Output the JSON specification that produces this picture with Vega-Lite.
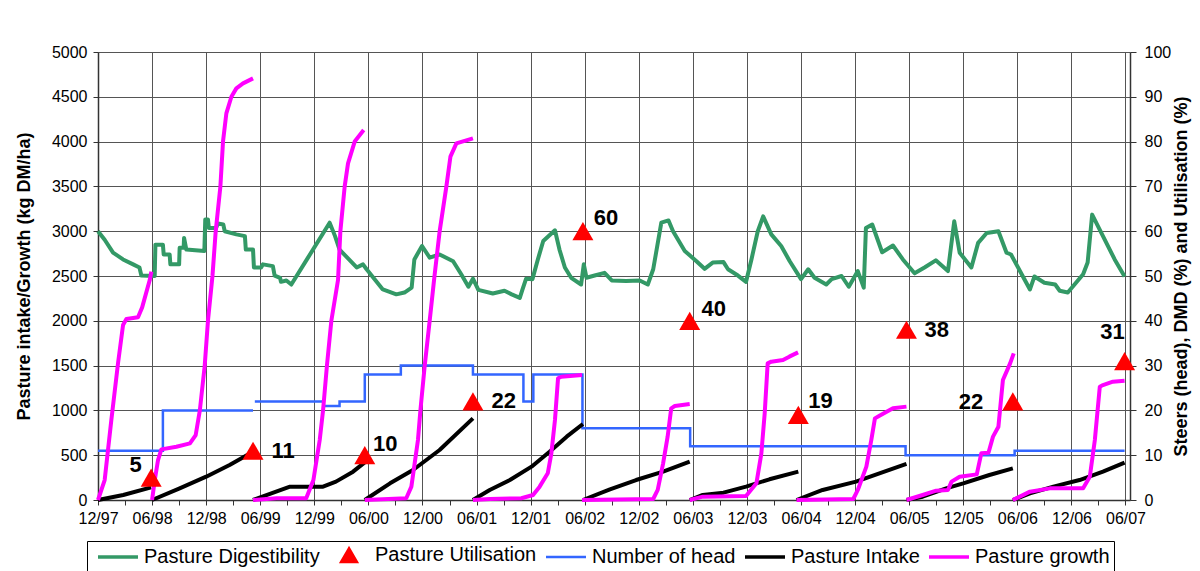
{
  "$schema": "https://vega.github.io/schema/vega-lite/v6.json",
  "width": 1032,
  "height": 448,
  "autosize": {"type": "none"},
  "padding": {"left": 98, "top": 52, "right": 70, "bottom": 71},
  "background": "white",
  "config": {
    "view": {"stroke": null},
    "font": "Liberation Sans",
    "axis": {
      "labelFont": "Liberation Sans", "labelFontSize": 16, "labelColor": "#000",
      "titleFont": "Liberation Sans", "titleFontSize": 18, "titleFontWeight": "bold", "titleColor": "#000",
      "domainColor": "#333", "tickColor": "#333", "gridColor": "#555", "gridOpacity": 1, "gridWidth": 1,
      "domainWidth": 1.5, "tickWidth": 1, "labelFlush": false
    },
    "legend": {
      "orient": "none", "legendX": -11, "legendY": 489, "direction": "horizontal",
      "labelFont": "Liberation Sans", "labelFontSize": 20, "labelColor": "#000", "labelLimit": 0,
      "strokeColor": "#000", "fillColor": "white", "padding": 4, "columnPadding": 2, "labelOffset": 16, "symbolOffset": 17,
      "symbolType": "stroke", "symbolStrokeWidth": 4, "symbolOpacity": 1
    }
  },
  "datasets": {
    "growth": [
      {"s":1,"m":0,"v":0},{"s":1,"m":0.74,"v":223},{"s":1,"m":1.48,"v":893},{"s":1,"m":2.22,"v":1525},{"s":1,"m":2.78,"v":1953},{"s":1,"m":3.15,"v":2020},{"s":1,"m":4.44,"v":2040},{"s":1,"m":4.9,"v":2150},{"s":1,"m":5.74,"v":2455},{"s":1,"m":5.92,"v":2548},
      {"s":2,"m":6.0,"v":0},{"s":2,"m":6.3,"v":223},{"s":2,"m":6.66,"v":446},{"s":2,"m":7.03,"v":565},{"s":2,"m":8.7,"v":595},{"s":2,"m":10.2,"v":632},{"s":2,"m":10.84,"v":725},{"s":2,"m":11.3,"v":1000},{"s":2,"m":11.84,"v":1500},{"s":2,"m":12.2,"v":2000},{"s":2,"m":12.7,"v":2500},{"s":2,"m":13.06,"v":3000},{"s":2,"m":13.58,"v":3500},{"s":2,"m":13.87,"v":4000},{"s":2,"m":14.24,"v":4315},{"s":2,"m":14.8,"v":4501},{"s":2,"m":15.35,"v":4594},{"s":2,"m":16.09,"v":4650},{"s":2,"m":17.2,"v":4706},
      {"s":3,"m":17.2,"v":0},{"s":3,"m":19.8,"v":19},{"s":3,"m":23.1,"v":19},{"s":3,"m":23.9,"v":223},{"s":3,"m":24.6,"v":670},{"s":3,"m":24.97,"v":1000},{"s":3,"m":25.4,"v":1500},{"s":3,"m":25.89,"v":2000},{"s":3,"m":26.63,"v":2455},{"s":3,"m":26.89,"v":3000},{"s":3,"m":27.37,"v":3500},{"s":3,"m":27.74,"v":3757},{"s":3,"m":28.48,"v":4000},{"s":3,"m":29.48,"v":4129},
      {"s":4,"m":29.6,"v":0},{"s":4,"m":34.2,"v":19},{"s":4,"m":34.77,"v":149},{"s":4,"m":35.5,"v":670},{"s":4,"m":35.77,"v":1000},{"s":4,"m":36.25,"v":1500},{"s":4,"m":36.8,"v":2000},{"s":4,"m":37.3,"v":2470},{"s":4,"m":37.9,"v":2995},{"s":4,"m":38.65,"v":3497},{"s":4,"m":39.1,"v":3832},{"s":4,"m":39.76,"v":3980},{"s":4,"m":41.6,"v":4036},
      {"s":5,"m":41.6,"v":0},{"s":5,"m":43.46,"v":11},{"s":5,"m":46.97,"v":19},{"s":5,"m":48.27,"v":56},{"s":5,"m":49.0,"v":149},{"s":5,"m":49.9,"v":298},{"s":5,"m":50.3,"v":521},{"s":5,"m":50.7,"v":893},{"s":5,"m":51.04,"v":1358},{"s":5,"m":51.4,"v":1376},{"s":5,"m":53.7,"v":1395},
      {"s":6,"m":53.7,"v":0},{"s":6,"m":61.6,"v":11},{"s":6,"m":62.1,"v":112},{"s":6,"m":62.7,"v":409},{"s":6,"m":63.2,"v":707},{"s":6,"m":63.6,"v":1023},{"s":6,"m":64.0,"v":1049},{"s":6,"m":65.65,"v":1071},
      {"s":7,"m":65.65,"v":0},{"s":7,"m":67.1,"v":37},{"s":7,"m":71.9,"v":45},{"s":7,"m":73.05,"v":186},{"s":7,"m":73.6,"v":521},{"s":7,"m":73.97,"v":967},{"s":7,"m":74.3,"v":1525},{"s":7,"m":74.7,"v":1544},{"s":7,"m":76.0,"v":1562},{"s":7,"m":76.7,"v":1600},{"s":7,"m":77.67,"v":1648},
      {"s":8,"m":77.5,"v":0},{"s":8,"m":83.8,"v":11},{"s":8,"m":84.3,"v":112},{"s":8,"m":85.25,"v":372},{"s":8,"m":85.8,"v":670},{"s":8,"m":86.2,"v":911},{"s":8,"m":86.7,"v":940},{"s":8,"m":88.2,"v":1023},{"s":8,"m":89.7,"v":1042},
      {"s":9,"m":89.7,"v":0},{"s":9,"m":91.5,"v":56},{"s":9,"m":93.0,"v":104},{"s":9,"m":94.3,"v":112},{"s":9,"m":94.7,"v":205},{"s":9,"m":95.6,"v":260},{"s":9,"m":97.5,"v":286},{"s":9,"m":98.0,"v":521},{"s":9,"m":98.8,"v":528},{"s":9,"m":99.3,"v":707},{"s":9,"m":99.9,"v":818},{"s":9,"m":100.4,"v":1339},{"s":9,"m":101.2,"v":1525},{"s":9,"m":101.6,"v":1637},
      {"s":10,"m":101.5,"v":0},{"s":10,"m":103.4,"v":93},{"s":10,"m":105.6,"v":130},{"s":10,"m":109.3,"v":130},{"s":10,"m":110.04,"v":260},{"s":10,"m":110.6,"v":670},{"s":10,"m":111.15,"v":1265},{"s":10,"m":111.5,"v":1283},{"s":10,"m":112.6,"v":1321},{"s":10,"m":113.9,"v":1332}
    ],
    "intake": [
      {"s":1,"m":0,"v":0},{"s":1,"m":2.8,"v":56},{"s":1,"m":5.9,"v":141},
      {"s":2,"m":6.0,"v":0},{"s":2,"m":9.06,"v":130},{"s":2,"m":12.0,"v":260},{"s":2,"m":14.6,"v":391},{"s":2,"m":17.2,"v":539},
      {"s":3,"m":17.2,"v":0},{"s":3,"m":21.3,"v":149},{"s":3,"m":24.97,"v":149},{"s":3,"m":26.4,"v":205},{"s":3,"m":28.3,"v":316},{"s":3,"m":29.7,"v":428},
      {"s":4,"m":29.6,"v":0},{"s":4,"m":32.4,"v":186},{"s":4,"m":34.95,"v":335},{"s":4,"m":37.9,"v":558},{"s":4,"m":41.6,"v":911},
      {"s":5,"m":41.6,"v":0},{"s":5,"m":43.46,"v":112},{"s":5,"m":45.7,"v":223},{"s":5,"m":48.1,"v":372},{"s":5,"m":50.1,"v":539},{"s":5,"m":52.0,"v":707},{"s":5,"m":53.8,"v":848},
      {"s":6,"m":53.8,"v":0},{"s":6,"m":56.8,"v":119},{"s":6,"m":59.7,"v":223},{"s":6,"m":62.7,"v":316},{"s":6,"m":65.65,"v":428},
      {"s":7,"m":65.65,"v":0},{"s":7,"m":67.1,"v":56},{"s":7,"m":69.4,"v":82},{"s":7,"m":71.9,"v":149},{"s":7,"m":74.5,"v":231},{"s":7,"m":77.7,"v":316},
      {"s":8,"m":77.5,"v":0},{"s":8,"m":80.4,"v":112},{"s":8,"m":84.1,"v":205},{"s":8,"m":87.8,"v":335},{"s":8,"m":89.7,"v":402},
      {"s":9,"m":89.7,"v":0},{"s":9,"m":91.5,"v":37},{"s":9,"m":94.1,"v":130},{"s":9,"m":96.0,"v":186},{"s":9,"m":98.9,"v":279},{"s":9,"m":101.5,"v":353},
      {"s":10,"m":101.5,"v":0},{"s":10,"m":103.4,"v":74},{"s":10,"m":106.0,"v":149},{"s":10,"m":108.9,"v":223},{"s":10,"m":111.5,"v":316},{"s":10,"m":113.9,"v":417}
    ],
    "head": [
      {"s":1,"m":0,"v":11},{"s":1,"m":7.2,"v":20},{"s":1,"m":17.2,"v":20},
      {"s":2,"m":17.4,"v":22},{"s":2,"m":25.0,"v":21},{"s":2,"m":26.8,"v":22},{"s":2,"m":29.6,"v":28},{"s":2,"m":33.6,"v":30},{"s":2,"m":41.6,"v":28},{"s":2,"m":47.2,"v":22},{"s":2,"m":48.3,"v":28},{"s":2,"m":53.75,"v":16},{"s":2,"m":65.7,"v":12},{"s":2,"m":89.6,"v":10},{"s":2,"m":101.7,"v":11},{"s":2,"m":113.9,"v":11}
    ],
    "dmd": [
      {"m":0,"v":60},{"m":0.74,"v":58.1},{"m":1.67,"v":55.2},{"m":2.78,"v":53.7},{"m":3.9,"v":52.6},{"m":4.6,"v":51.9},{"m":4.81,"v":50.1},{"m":6.29,"v":50},{"m":6.37,"v":57.0},{"m":7.2,"v":57.0},{"m":7.29,"v":54.8},{"m":7.95,"v":54.8},{"m":8.03,"v":52.6},{"m":9.0,"v":52.6},{"m":9.06,"v":56.3},{"m":9.5,"v":56.3},{"m":9.55,"v":58.5},{"m":9.8,"v":55.9},{"m":11.8,"v":55.6},{"m":11.9,"v":62.6},{"m":12.2,"v":62.6},{"m":12.3,"v":60.7},{"m":13.1,"v":60.7},{"m":13.3,"v":61.7},{"m":13.9,"v":61.5},{"m":14.06,"v":60},{"m":15.35,"v":59.3},{"m":16.3,"v":58.9},{"m":16.4,"v":55.9},{"m":17.2,"v":55.9},{"m":17.3,"v":51.9},{"m":18.1,"v":51.9},{"m":18.3,"v":52.6},{"m":19.4,"v":52.2},{"m":19.6,"v":50.1},{"m":20.2,"v":49.6},{"m":20.3,"v":48.7},{"m":20.9,"v":49.0},{"m":21.45,"v":48.1},{"m":23.3,"v":54.1},{"m":25.7,"v":61.9},{"m":26.3,"v":58.9},{"m":26.8,"v":55.9},{"m":28.7,"v":51.9},{"m":29.4,"v":52.6},{"m":29.8,"v":51.5},{"m":31.6,"v":47.0},{"m":33.1,"v":45.9},{"m":34.0,"v":46.3},{"m":34.8,"v":47.4},{"m":35.1,"v":53.7},{"m":35.95,"v":56.7},{"m":36.8,"v":54.1},{"m":37.9,"v":54.8},
      {"m":39.4,"v":53.3},{"m":40.3,"v":50.4},{"m":41.1,"v":47.6},{"m":41.6,"v":49.4},{"m":42.2,"v":46.9},{"m":43.8,"v":46.1},{"m":45.1,"v":46.7},{"m":45.9,"v":45.9},{"m":46.8,"v":45.1},{"m":47.1,"v":47.0},{"m":47.5,"v":49.4},{"m":48.2,"v":49.3},{"m":48.8,"v":53.7},{"m":49.4,"v":57.8},{"m":50.7,"v":60.2},{"m":51.2,"v":55.9},{"m":51.8,"v":51.9},{"m":52.5,"v":49.6},{"m":53.6,"v":48.1},{"m":53.9,"v":52.6},{"m":54.2,"v":49.6},{"m":55.1,"v":50.1},{"m":56.2,"v":50.7},{"m":57.0,"v":49.0},{"m":58.6,"v":48.9},{"m":60.1,"v":49.0},{"m":61.0,"v":48.1},{"m":61.6,"v":51.5},{"m":62.5,"v":61.9},{"m":63.3,"v":62.4},{"m":63.8,"v":60},{"m":65.1,"v":55.6},{"m":66.4,"v":53.3},{"m":67.3,"v":51.6},{"m":68.2,"v":53.0},{"m":69.4,"v":53.1},{"m":69.9,"v":51.5},{"m":71.0,"v":50.1},{"m":71.9,"v":48.7},{"m":72.5,"v":53.7},{"m":73.2,"v":60},{"m":73.8,"v":63.3},{"m":74.7,"v":59.3},{"m":75.8,"v":56.7},
      {"m":76.75,"v":53.3},{"m":78.0,"v":49.3},{"m":78.8,"v":51.5},{"m":79.5,"v":49.6},{"m":80.8,"v":48.1},{"m":81.4,"v":49.3},{"m":82.5,"v":50},{"m":83.3,"v":47.6},{"m":84.3,"v":51.1},{"m":84.96,"v":47.4},{"m":85.2,"v":60.7},{"m":85.9,"v":61.5},{"m":87.0,"v":55.3},{"m":88.2,"v":56.8},{"m":89.3,"v":53.7},{"m":90.6,"v":50.6},{"m":91.7,"v":51.9},{"m":92.95,"v":53.5},{"m":94.3,"v":51.1},{"m":95.0,"v":62.2},{"m":95.6,"v":55.2},{"m":96.9,"v":51.9},{"m":97.65,"v":57.4},{"m":98.6,"v":59.6},{"m":99.9,"v":60},{"m":100.8,"v":55.2},{"m":101.3,"v":54.8},{"m":103.4,"v":47.0},{"m":103.9,"v":49.9},{"m":105.0,"v":48.5},{"m":106.2,"v":48.1},{"m":106.7,"v":46.7},{"m":107.6,"v":46.3},{"m":109.3,"v":50.4},{"m":109.8,"v":53.0},{"m":110.3,"v":63.7},{"m":111.5,"v":58.9},{"m":112.8,"v":53.7},{"m":113.9,"v":49.9}
    ],
    "util": [
      {"m":5.9,"v":5,"lbl":"5","lm":3.5,"lv":7.8},
      {"m":17.2,"v":11,"lbl":"11","lm":19.24,"lv":10.9},
      {"m":29.6,"v":10,"lbl":"10","lm":30.5,"lv":12.5},
      {"m":41.6,"v":22,"lbl":"22","lm":43.65,"lv":22.1},
      {"m":53.8,"v":60,"lbl":"60","lm":55.0,"lv":62.9},
      {"m":65.65,"v":40,"lbl":"40","lm":66.96,"lv":42.6},
      {"m":77.7,"v":19,"lbl":"19","lm":78.8,"lv":22.1},
      {"m":89.7,"v":38,"lbl":"38","lm":91.7,"lv":37.9},
      {"m":101.5,"v":22,"lbl":"22","lm":95.5,"lv":21.8},
      {"m":113.9,"v":31,"lbl":"31","lm":111.2,"lv":37.4}
    ]
  },
  "layer": [
    {
      "layer": [
        {
          "data": {"name": "dmd"},
          "mark": {"type": "line", "strokeWidth": 4, "strokeJoin": "round"},
          "encoding": {
            "x": {"field": "m", "type": "quantitative", "scale": {"domain": [0, 114.5], "nice": false, "zero": false},
                  "axis": {"orient": "bottom", "values": [3,9,15,21,27,33,39,45,51,57,63,69,75,81,87,93,99,105,111], "labels": false, "grid": false, "domain": false, "tickSize": 5, "title": null}},
            "y": {"field": "v", "type": "quantitative", "scale": {"domain": [0, 100], "nice": false},
                  "axis": {"orient": "right", "values": [0,10,20,30,40,50,60,70,80,90,100], "grid": false, "tickSize": 6, "labelPadding": 8, "format": "d",
                           "title": "Steers (head), DMD (%) and Utilisation (%)", "titleAngle": 270, "titlePadding": 20}},
            "color": {"datum": "Pasture Digestibility", "type": "nominal",
                      "scale": {"domain": ["Pasture Digestibility", "Pasture Utilisation", "Number of head", "Pasture Intake", "Pasture growth"],
                                "range": ["#339966", "#ff0000", "#3366ff", "#000000", "#ff00ff"]},
                      "legend": {"title": null, "labelLimit": 0, "labelOffset": 16, "symbolOffset": 17, "columnPadding": 2,
                                 "encode": {"symbols": {"update": {
                                   "shape": {"signal": "datum.value === 'Pasture Utilisation' ? 'triangle-up' : 'stroke'"},
                                   "size": {"signal": "datum.value === 'Pasture Utilisation' ? 200 : 1600"},
                                   "fill": {"signal": "datum.value === 'Pasture Utilisation' ? '#ff0000' : 'transparent'"},
                                   "stroke": {"signal": "datum.value === 'Pasture Utilisation' ? 'transparent' : scale('color', datum.value)"},
                                   "strokeWidth": {"signal": "datum.value === 'Number of head' ? 2.5 : 3.5"},
                                   "opacity": {"value": 1}
                                 }}}}}
          }
        },
        {
          "data": {"name": "head"},
          "mark": {"type": "line", "interpolate": "step-after", "strokeWidth": 2.5},
          "encoding": {
            "x": {"field": "m", "type": "quantitative", "scale": {"domain": [0, 114.5], "nice": false, "zero": false}},
            "y": {"field": "v", "type": "quantitative", "scale": {"domain": [0, 100], "nice": false}},
            "detail": {"field": "s", "type": "nominal"},
            "color": {"datum": "Number of head", "type": "nominal"}
          }
        }
      ]
    },
    {
      "layer": [
        {
          "data": {"name": "intake"},
          "mark": {"type": "line", "strokeWidth": 4, "strokeJoin": "round"},
          "encoding": {
            "x": {"field": "m", "type": "quantitative", "scale": {"domain": [0, 114.5], "nice": false, "zero": false},
                  "axis": {"orient": "bottom", "values": [0,6,12,18,24,30,36,42,48,54,60,66,72,78,84,90,96,102,108,114], "grid": true, "tickSize": 5, "labelPadding": 5, "labelFlush": false,
                           "labelExpr": "(datum.value % 12 == 0 ? '12/' : '06/') + slice('0' + ((97 + ceil(datum.value / 12)) % 100), -2)",
                           "labelOverlap": false, "title": null}},
            "y": {"field": "v", "type": "quantitative", "scale": {"domain": [0, 5000], "nice": false},
                  "axis": {"orient": "left", "values": [0,500,1000,1500,2000,2500,3000,3500,4000,4500,5000], "grid": true, "tickSize": 5, "labelPadding": 6, "format": "d",
                           "title": "Pasture intake/Growth (kg DM/ha)", "titlePadding": 18}},
            "detail": {"field": "s", "type": "nominal"},
            "color": {"datum": "Pasture Intake", "type": "nominal"}
          }
        },
        {
          "data": {"name": "growth"},
          "mark": {"type": "line", "strokeWidth": 4, "strokeJoin": "round"},
          "encoding": {
            "x": {"field": "m", "type": "quantitative", "scale": {"domain": [0, 114.5], "nice": false, "zero": false}},
            "y": {"field": "v", "type": "quantitative", "scale": {"domain": [0, 5000], "nice": false}},
            "detail": {"field": "s", "type": "nominal"},
            "color": {"datum": "Pasture growth", "type": "nominal"}
          }
        }
      ]
    },
    {
      "layer": [
        {
          "data": {"name": "util"},
          "mark": {"type": "point", "shape": "triangle-up", "filled": true, "size": 440, "opacity": 1},
          "encoding": {
            "x": {"field": "m", "type": "quantitative", "scale": {"domain": [0, 114.5], "nice": false, "zero": false}, "axis": null},
            "y": {"field": "v", "type": "quantitative", "scale": {"domain": [0, 100], "nice": false},
                  "axis": {"orient": "right", "values": [5,15,25,35,45,55,65,75,85,95], "labels": false, "grid": false, "domain": false, "tickSize": 5, "title": null}},
            "color": {"datum": "Pasture Utilisation", "type": "nominal"}
          }
        },
        {
          "data": {"name": "util"},
          "mark": {"type": "text", "align": "left", "baseline": "middle", "fontSize": 22, "fontWeight": "bold", "font": "Liberation Sans", "color": "#000"},
          "encoding": {
            "x": {"field": "lm", "type": "quantitative", "scale": {"domain": [0, 114.5], "nice": false, "zero": false}, "axis": null},
            "y": {"field": "lv", "type": "quantitative", "scale": {"domain": [0, 100], "nice": false}, "axis": null},
            "text": {"field": "lbl", "type": "nominal"}
          }
        }
      ]
    }
  ],
  "resolve": {"scale": {"y": "independent"}, "axis": {"x": "independent"}}
}
